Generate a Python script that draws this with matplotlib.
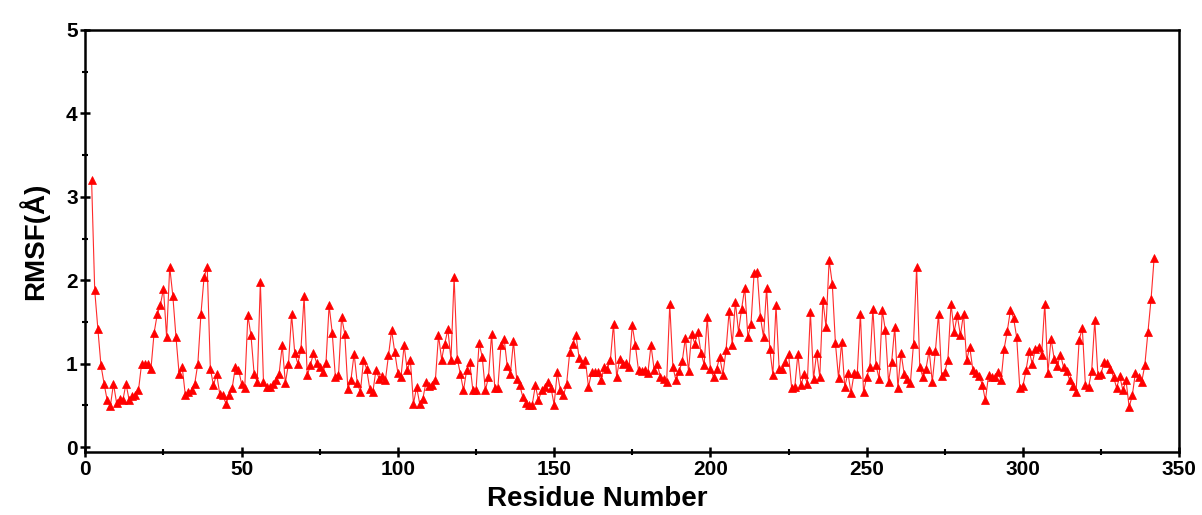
import numpy as np
import matplotlib
matplotlib.use("Agg")
import matplotlib.pyplot as plt
from matplotlib.ticker import MultipleLocator

plt.rcParams['font.family'] = ['Liberation Sans', 'DejaVu Sans']

# residue numbers (first one plotted is 2)
first_residue = 2

# RMSF values in Angstrom
rmsf = [
    3.20, 1.88, 1.42, 0.98, 0.76, 0.56, 0.49, 0.76, 0.53, 0.58,   # 2-11
    0.56, 0.76, 0.57, 0.61, 0.62, 0.68, 1.00, 1.00, 1.00, 0.94,   # 12-21
    1.37, 1.59, 1.70, 1.90, 1.32, 2.16, 1.81, 1.32, 0.88, 0.96,   # 22-31
    0.62, 0.66, 0.68, 0.76, 1.00, 1.60, 2.04, 2.16, 0.94, 0.74,   # 32-41
    0.88, 0.64, 0.62, 0.52, 0.62, 0.71, 0.96, 0.93, 0.76, 0.71,   # 42-51
    1.58, 1.34, 0.88, 0.78, 1.98, 0.78, 0.72, 0.72, 0.76, 0.80,   # 52-61
    0.88, 1.22, 0.77, 1.00, 1.59, 1.13, 1.00, 1.18, 1.81, 0.86,   # 62-71
    0.98, 1.13, 1.01, 0.96, 0.90, 1.01, 1.70, 1.37, 0.84, 0.86,   # 72-81
    1.56, 1.36, 0.70, 0.81, 1.12, 0.77, 0.66, 1.04, 0.94, 0.70,   # 82-91
    0.66, 0.93, 0.82, 0.85, 0.80, 1.10, 1.40, 1.14, 0.89, 0.84,   # 92-101
    1.22, 0.92, 1.04, 0.52, 0.72, 0.52, 0.58, 0.78, 0.73, 0.74,   # 102-111
    0.80, 1.34, 1.05, 1.24, 1.41, 1.05, 2.04, 1.06, 0.88, 0.68,   # 112-121
    0.92, 1.02, 0.68, 0.68, 1.25, 1.08, 0.68, 0.84, 1.36, 0.71,   # 122-131
    0.71, 1.22, 1.30, 0.97, 0.88, 1.27, 0.82, 0.74, 0.60, 0.53,   # 132-141
    0.51, 0.51, 0.74, 0.56, 0.68, 0.72, 0.78, 0.71, 0.51, 0.90,   # 142-151
    0.68, 0.62, 0.76, 1.14, 1.24, 1.34, 1.07, 1.00, 1.04, 0.72,   # 152-161
    0.90, 0.90, 0.90, 0.80, 0.96, 0.94, 1.04, 1.48, 0.84, 1.06,   # 162-171
    1.00, 1.01, 0.96, 1.46, 1.22, 0.92, 0.91, 0.93, 0.89, 1.22,   # 172-181
    0.93, 1.00, 0.84, 0.82, 0.78, 1.71, 0.96, 0.80, 0.91, 1.03,   # 182-191
    1.31, 0.91, 1.36, 1.24, 1.38, 1.13, 0.99, 1.56, 0.94, 0.84,   # 192-201
    0.94, 1.08, 0.87, 1.16, 1.63, 1.23, 1.74, 1.38, 1.66, 1.91,   # 202-211
    1.32, 1.48, 2.09, 2.10, 1.56, 1.32, 1.91, 1.18, 0.87, 1.70,   # 212-221
    0.94, 0.94, 1.02, 1.12, 0.71, 0.72, 1.12, 0.74, 0.88, 0.76,   # 222-231
    1.62, 0.82, 1.13, 0.84, 1.76, 1.44, 2.24, 1.96, 1.25, 0.83,   # 232-241
    1.26, 0.72, 0.89, 0.65, 0.89, 0.88, 1.60, 0.66, 0.84, 0.96,   # 242-251
    1.66, 0.98, 0.82, 1.64, 1.40, 0.78, 1.02, 1.44, 0.71, 1.13,   # 252-261
    0.88, 0.82, 0.77, 1.24, 2.16, 0.96, 0.84, 0.94, 1.16, 0.78,   # 262-271
    1.15, 1.60, 0.85, 0.90, 1.05, 1.72, 1.38, 1.58, 1.34, 1.60,   # 272-281
    1.04, 1.20, 0.92, 0.89, 0.85, 0.75, 0.56, 0.86, 0.84, 0.84,   # 282-291
    0.90, 0.80, 1.18, 1.39, 1.64, 1.55, 1.32, 0.71, 0.73, 0.92,   # 292-301
    1.15, 1.00, 1.18, 1.20, 1.11, 1.72, 0.89, 1.30, 1.06, 0.97,   # 302-311
    1.11, 0.96, 0.91, 0.80, 0.73, 0.66, 1.28, 1.43, 0.74, 0.72,   # 312-321
    0.91, 1.52, 0.86, 0.88, 1.02, 1.01, 0.94, 0.84, 0.71, 0.85,   # 322-331
    0.68, 0.80, 0.48, 0.62, 0.89, 0.84, 0.78, 0.98, 1.38, 1.77,   # 332-341
    2.27,                                                         # 342
]
residues = np.arange(first_residue, first_residue + len(rmsf))

x_ticks = [0, 50, 100, 150, 200, 250, 300, 350]
y_ticks = [0, 1, 2, 3, 4, 5]

fig = plt.figure(figsize=(12.02, 5.15), dpi=100)
ax = fig.add_axes([0.071, 0.122, 0.910, 0.820])

ax.plot(residues, rmsf, color='#ff2a2a', lw=0.8, marker='^',
        markersize=6, markerfacecolor='red', markeredgecolor='red',
        markeredgewidth=0.5)

ax.set_xlim(0, 350)
ax.set_ylim(-0.06, 5)
ax.set_xticks(x_ticks)
ax.set_yticks(y_ticks)
ax.xaxis.set_minor_locator(MultipleLocator(25))
ax.yaxis.set_minor_locator(MultipleLocator(0.5))

for side in ax.spines.values():
    side.set_linewidth(1.8)
ax.tick_params(which='major', direction='inout', length=7, width=1.8,
               labelsize=15, pad=2)
ax.tick_params(which='minor', direction='inout', length=5, width=1.5)
for lab in ax.get_xticklabels() + ax.get_yticklabels():
    lab.set_fontweight('bold')

ax.set_xlabel('Residue Number', fontsize=20, fontweight='bold')
ax.xaxis.set_label_coords(0.468, -0.08)
ax.set_ylabel('RMSF(Å)', fontsize=20, fontweight='bold', labelpad=12)

fig.savefig('out.png', dpi=100)
